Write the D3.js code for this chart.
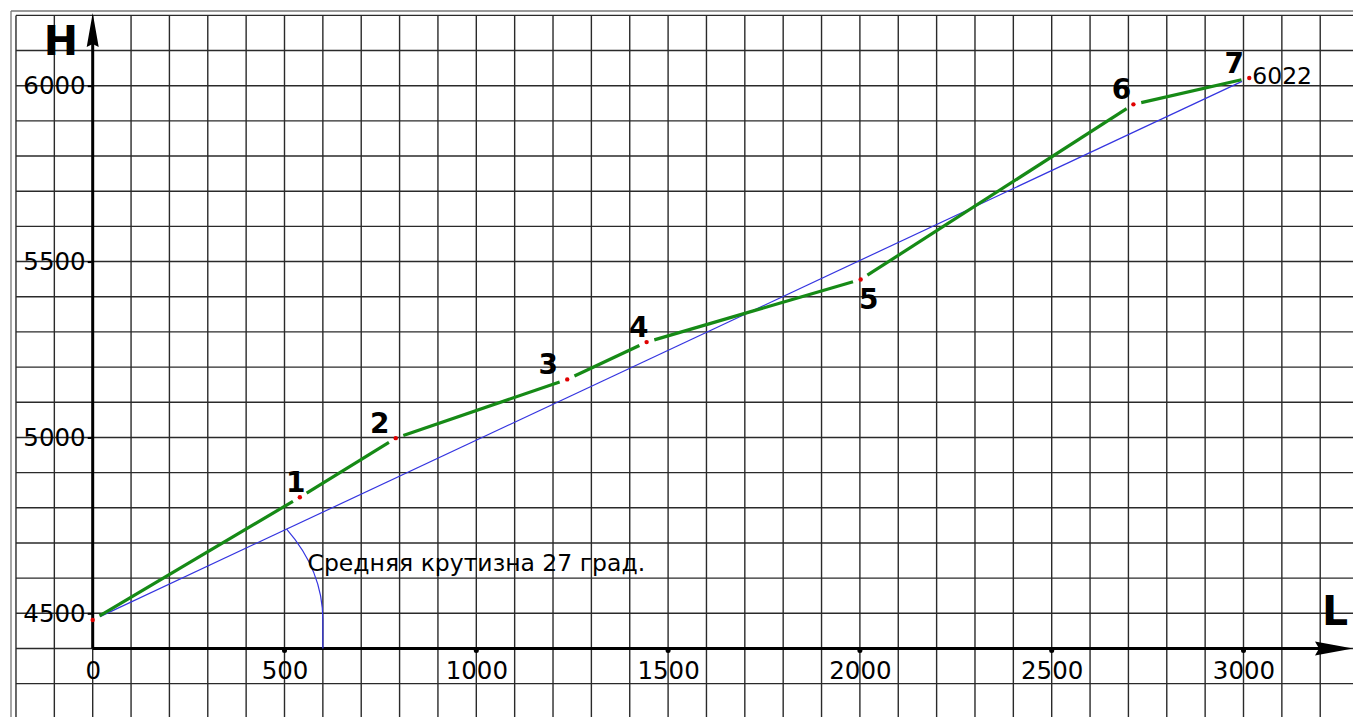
<!DOCTYPE html>
<html>
<head>
<meta charset="utf-8">
<script src="https://cdn.jsdelivr.net/npm/d3@7"></script>
<style>
  html, body { margin: 0; padding: 0; background: #fff; }
  svg { display: block; }
  text { font-family: "DejaVu Sans", sans-serif; }
</style>
</head>
<body>
<svg id="chart" width="1353" height="717"></svg>
<script>
// ---- data ----
const pointLabels = ["", "1", "2", "3", "4", "5", "6", "7"];
const distL   = [0, 540, 790, 1237, 1444, 2002, 2713, 3015];
const heightH = [4481, 4830, 4998, 5165, 5271, 5449, 5947, 6022];
const xTicks = [0, 500, 1000, 1500, 2000, 2500, 3000];
const yTicks = [4500, 5000, 5500, 6000];
const endValueLabel = "6022";
const slopeText = "Средняя крутизна 27 град.";
const arcRadiusL = 600, arcRadiusH = 480;   // angle arc radii in data units
const labelSide = ["", "ul", "ul", "ul", "ul", "lr", "ul", "ul"];

// ---- layout ----
const W = 1353, Hh = 717;
const svg = d3.select("#chart");
const x = d3.scaleLinear().domain([0, 3000]).range([92.7, 1243.5]);
const y = d3.scaleLinear().domain([4500, 6000]).range([613.3, 85.7]);
const Lmin = x.invert(16), Hmax = y.invert(15.4);

// frame
svg.append("line").attr("x1", 11).attr("x2", W).attr("y1", 11).attr("y2", 11)
  .attr("stroke", "#777").attr("stroke-width", 1.3);
svg.append("line").attr("x1", 11).attr("x2", 11).attr("y1", 11).attr("y2", Hh)
  .attr("stroke", "#777").attr("stroke-width", 1.3);

// grid
const gridL = d3.range(-200, 3201, 100);
const gridH = d3.range(4300, 6201, 100);
const grid = svg.append("g").attr("stroke", "#2a2a2a").attr("stroke-width", 1.4);
grid.selectAll("line.v").data(gridL).join("line").attr("class", "v")
  .attr("x1", d => x(d)).attr("x2", d => x(d))
  .attr("y1", y(Hmax)).attr("y2", Hh);
grid.selectAll("line.h").data(gridH).join("line").attr("class", "h")
  .attr("x1", x(Lmin)).attr("x2", W)
  .attr("y1", d => y(d)).attr("y2", d => y(d));

// axes
const axisY0 = 4400;
svg.append("line").attr("x1", x(0)).attr("x2", W - 30).attr("y1", y(axisY0)).attr("y2", y(axisY0))
  .attr("stroke", "#000").attr("stroke-width", 3);
svg.append("line").attr("x1", x(0)).attr("x2", x(0)).attr("y1", y(axisY0)).attr("y2", 40)
  .attr("stroke", "#000").attr("stroke-width", 3);
// arrows
const ax0 = x(0), ayB = y(axisY0);
svg.append("path").attr("d", `M${ax0},13 L${ax0 + 6},47 L${ax0},44 L${ax0 - 6},47 Z`).attr("fill", "#000");
svg.append("path").attr("d", `M${W},${ayB} L${W - 38},${ayB - 7} L${W - 34},${ayB} L${W - 38},${ayB + 7} Z`).attr("fill", "#000");

// x ticks (dots) + labels
const xAxis = d3.axisBottom(x).tickValues(xTicks).tickSize(0).tickPadding(13).tickFormat(d3.format("d"));
const gx = svg.append("g").attr("transform", `translate(0,${ayB})`).call(xAxis);
gx.select(".domain").remove();
gx.selectAll("text").attr("font-size", 24.5).attr("fill", "#000").attr("font-family", "DejaVu Sans");
svg.selectAll("circle.xt").data(xTicks.slice(1)).join("circle").attr("class", "xt")
  .attr("cx", d => x(d)).attr("cy", ayB + 2).attr("r", 2.5).attr("fill", "#000");

// y ticks + labels
const yAxis = d3.axisLeft(y).tickValues(yTicks).tickSize(4).tickPadding(2).tickFormat(d3.format("d"));
const gy = svg.append("g").attr("transform", `translate(${ax0 - 1},0)`).call(yAxis);
gy.select(".domain").remove();
gy.selectAll("line").attr("stroke", "#000").attr("stroke-width", 2);
gy.selectAll("text").attr("font-size", 24.5).attr("fill", "#000").attr("font-family", "DejaVu Sans");

// axis names
svg.append("text").attr("x", 61).attr("y", 55).attr("text-anchor", "middle")
  .attr("font-size", 41).attr("font-weight", "bold").attr("fill", "#000").text("H");
svg.append("text").attr("x", 1322).attr("y", 625)
  .attr("font-size", 41).attr("font-weight", "bold").attr("fill", "#000").text("L");

// points in px
const pts = distL.map((d, i) => [x(d), y(heightH[i])]);
function shortened(a, b, gap) {
  const dx = b[0] - a[0], dy = b[1] - a[1], len = Math.hypot(dx, dy);
  const ux = dx / len, uy = dy / len;
  return [[a[0] + ux * gap, a[1] + uy * gap], [b[0] - ux * gap, b[1] - uy * gap]];
}
const gap = 8;

// average slope line (blue)
const bl = shortened(pts[0], pts[pts.length - 1], gap);
svg.append("line").attr("x1", bl[0][0]).attr("y1", bl[0][1]).attr("x2", bl[1][0]).attr("y2", bl[1][1])
  .attr("stroke", "#3535e0").attr("stroke-width", 1.2);

// angle arc
const tStart = Math.atan2((heightH[7] - heightH[0]) / arcRadiusH, (distL[7] - distL[0]) / arcRadiusL);
const arcA = [x(distL[0] + arcRadiusL * Math.cos(tStart)), y(heightH[0] + arcRadiusH * Math.sin(tStart))];
const arcB = [x(distL[0] + arcRadiusL), y(heightH[0])];
const rxPx = x(arcRadiusL) - x(0), ryPx = y(heightH[0]) - y(heightH[0] + arcRadiusH);
svg.append("path")
  .attr("d", `M${arcA[0]},${arcA[1]} A${rxPx},${ryPx} 0 0 1 ${arcB[0]},${arcB[1]} L${arcB[0]},${y(axisY0)}`)
  .attr("fill", "none").attr("stroke", "#3535e0").attr("stroke-width", 1.2);

// profile segments (green)
const segs = d3.pairs(pts).map(([a, b]) => shortened(a, b, gap));
svg.selectAll("line.seg").data(segs).join("line").attr("class", "seg")
  .attr("x1", d => d[0][0]).attr("y1", d => d[0][1]).attr("x2", d => d[1][0]).attr("y2", d => d[1][1])
  .attr("stroke", "#168a16").attr("stroke-width", 3.2).attr("stroke-linecap", "butt");

// red dots
svg.selectAll("circle.pt").data(pts).join("circle").attr("class", "pt")
  .attr("cx", d => d[0]).attr("cy", d => d[1]).attr("r", 2.2).attr("fill", "#e00000");

// point labels
const offs = { ul: [-12, -5], lr: [8, 29] };
const fineDx = [0, 8, -4, -7, 4, 0, 0, -3];
svg.selectAll("text.pl").data(pts).join("text").attr("class", "pl")
  .attr("x", (d, i) => d[0] + (labelSide[i] ? offs[labelSide[i]][0] + fineDx[i] : 0))
  .attr("y", (d, i) => d[1] + (labelSide[i] ? offs[labelSide[i]][1] : 0))
  .attr("text-anchor", "middle").attr("font-size", 28).attr("font-weight", "bold").attr("fill", "#000")
  .text((d, i) => pointLabels[i]);

// end value
const last = pts[pts.length - 1];
svg.append("text").attr("x", last[0] + 3).attr("y", last[1] + 6)
  .attr("font-size", 23.5).attr("fill", "#000").text(endValueLabel);

// slope annotation
svg.append("text").attr("x", x(560)).attr("y", y(4614) - 2)
  .attr("font-size", 23.5).attr("fill", "#000").text(slopeText);
</script>
</body>
</html>
